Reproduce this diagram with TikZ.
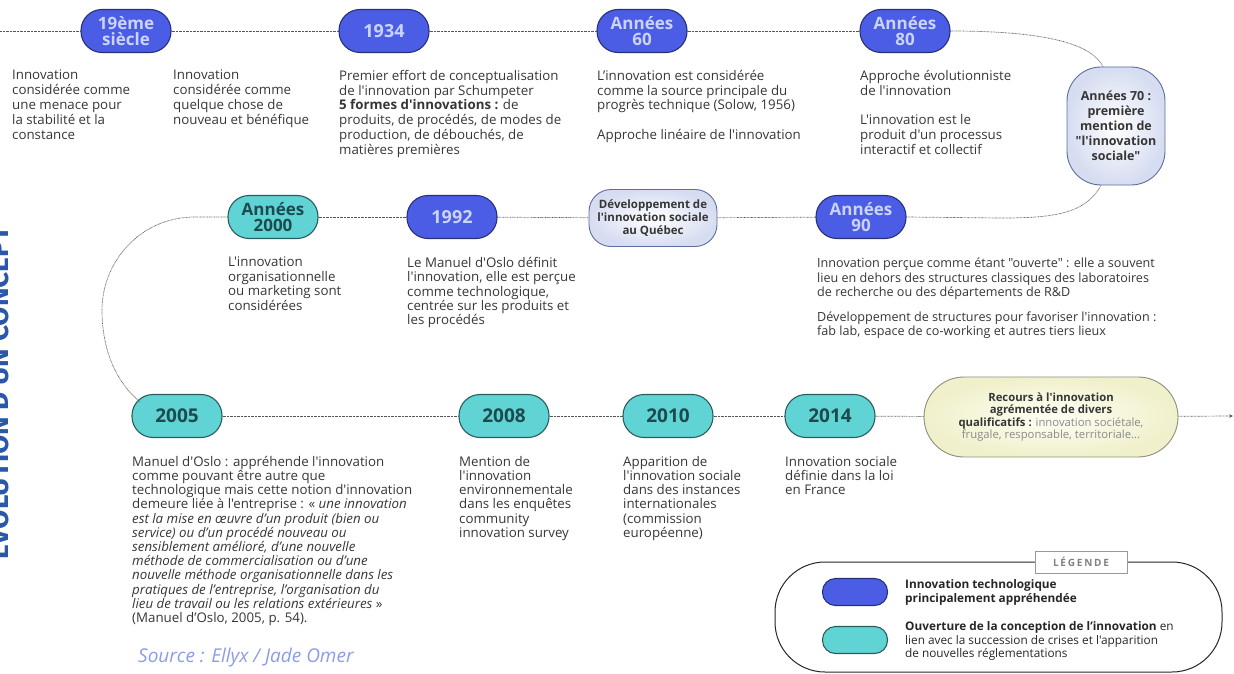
\documentclass[tikz,border=0pt]{standalone}
\usepackage{fontspec}
\setmainfont{Open Sans}
\newfontfamily\bodyfont{Open Sans}
\newfontfamily\titlefont{Fira Sans}
\usetikzlibrary{arrows.meta}
\definecolor{pblue}{HTML}{4B5DE4}
\definecolor{pblueedge}{HTML}{28307A}
\definecolor{pbluetext}{HTML}{CBD4FF}
\definecolor{pteal}{HTML}{60D3D5}
\definecolor{ptealedge}{HTML}{2B5C5C}
\definecolor{ptealtext}{HTML}{1D4A4D}
\definecolor{linegray}{HTML}{555555}
\definecolor{bodytext}{HTML}{363636}
\definecolor{titleblue}{HTML}{2A57A8}
\definecolor{srcblue}{HTML}{8C9CE6}
\definecolor{softedge}{HTML}{5E6C9E}
\definecolor{softrim}{HTML}{D6DDF1}
\definecolor{yelfill}{HTML}{FFFFF4}
\definecolor{yelrim}{HTML}{F0F0CC}
\definecolor{yeledge}{HTML}{8E8E7A}
\definecolor{greytext}{HTML}{8A8A8A}
\begin{document}
\bodyfont
\begin{tikzpicture}[x=1pt,y=-1pt,
  conn/.style={draw=linegray, line width=0.7pt, dash pattern=on 0.7pt off 0.7pt},
  pill/.style={rounded corners=21pt, minimum width=90pt, minimum height=43pt, line width=1.1pt, align=center, inner sep=0pt, font=\bfseries\fontsize{17}{16.5}\selectfont},
  bluepill/.style={pill, fill=pblue, draw=pblueedge, text=pbluetext},
  tealpill/.style={pill, fill=pteal, draw=ptealedge, text=ptealtext, font=\bfseries\fontsize{19}{19}\selectfont},
  softbox/.style={draw=softedge, line width=0.9pt, inner color=white, outer color=softrim, align=center, text=bodytext, inner sep=0pt, font=\bfseries\fontsize{11.5}{13}\selectfont},
  recours/.style={draw=yeledge, line width=0.9pt, inner color=yelfill, outer color=yelrim, rounded corners=40pt, minimum width=254pt, minimum height=80pt, align=center, inner sep=0pt, font=\fontsize{11.3}{12.3}\selectfont, text=bodytext},
  txt/.style={anchor=north west, inner sep=0pt, align=left, text=bodytext, font=\fontsize{13.3}{14.8}\selectfont},
]
\useasboundingbox (0,0) rectangle (1234,674);

% title
\node[rotate=90, anchor=base west, inner sep=0pt, text=titleblue, font=\titlefont\bfseries\fontsize{28}{28}\selectfont] (title) at (9,560) {ÉVOLUTION D'UN CONCEPT};

% row 1
\node[bluepill] (n19) at (126,31) {19ème\\siècle};
\node[bluepill, font=\bfseries\fontsize{18}{18}\selectfont] (n34) at (384,31) {1934};
\node[bluepill] (n60) at (642,31) {Années\\60};
\node[bluepill] (n80) at (905,31) {Années\\80};
\node[softbox, minimum width=98pt, minimum height=118pt, rounded corners=34pt, font=\bfseries\fontsize{12.5}{15}\selectfont] (n70) at (1116,126) {Années 70 :\\première\\mention de\\"l'innovation\\sociale"};

% row 2
\node[tealpill, font=\bfseries\fontsize{17}{16.5}\selectfont] (n2000) at (273,217) {Années\\2000};
\node[bluepill, font=\bfseries\fontsize{18}{18}\selectfont] (n92) at (452,217) {1992};
\node[softbox, minimum width=128pt, minimum height=57pt, rounded corners=22pt] (nqc) at (653,218) {Développement de\\l'innovation sociale\\au Québec};
\node[bluepill] (n90) at (861,217) {Années\\90};

% row 3
\node[tealpill] (n05) at (177,416) {2005};
\node[tealpill] (n08) at (504,416) {2008};
\node[tealpill] (n10) at (668,416) {2010};
\node[tealpill] (n14) at (830,416) {2014};
\node[recours] (nrec) at (1051,417) {\textbf{Recours à l'innovation}\\\textbf{agrémentée de divers}\\\textbf{qualificatifs :} {\color{greytext}innovation sociétale,}\\{\color{greytext}frugale, responsable, territoriale...}};

% connectors
\coordinate (lstart) at (0,31);
\coordinate (aend) at (1233,416);
\draw[conn] (lstart) -- (n19);
\draw[conn] (n19) -- (n34);
\draw[conn] (n34) -- (n60);
\draw[conn] (n60) -- (n80);
\draw[conn] (n80.east) .. controls (1050,31) and (1092,45) .. ([xshift=-13pt]n70.north);
\draw[conn] ([xshift=-15pt]n70.south) .. controls (1085,215) and (1050,218) .. (1000,218) -- (n90.east);
\draw[conn] (nqc) -- (n90);
\draw[conn] (n92) -- (nqc);
\draw[conn] (n2000) -- (n92);
\draw[conn] (n2000.west) -- (195,217) .. controls (140,217) and (102,262) .. (102,310) .. controls (102,350) and (116,382) .. ([xshift=-37pt,yshift=14pt]n05.center);
\draw[conn] (n05) -- (n08);
\draw[conn] (n08) -- (n10);
\draw[conn] (n10) -- (n14);
\draw[conn] (n14) -- (nrec);
\draw[conn, -{Stealth[length=4pt,width=3.5pt]}] (nrec) -- (aend);

% texts row 1
\node[txt] (t1) at (12,70) {Innovation\\considérée comme\\une menace pour\\la stabilité et la\\constance};
\node[txt] (t2) at (173,70) {Innovation\\considérée comme\\quelque chose de\\nouveau et bénéfique};
\node[txt] (t3) at (339,70) {Premier effort de conceptualisation\\de l'innovation par Schumpeter\\\textbf{5 formes d'innovations :} de\\produits, de procédés, de modes de\\production, de débouchés, de\\matières premières};
\node[txt] (t4) at (597,70) {L’innovation est considérée\\comme la source principale du\\progrès technique (Solow, 1956)\\[14.8pt]Approche linéaire de l'innovation};
\node[txt] (t5) at (860,70) {Approche évolutionniste\\de l'innovation\\[14.8pt]L'innovation est le\\produit d'un processus\\interactif et collectif};

% texts row 2
\node[txt, font=\fontsize{13.3}{14.4}\selectfont] (t6) at (228,257) {L'innovation\\organisationnelle\\ou marketing sont\\considérées};
\node[txt, font=\fontsize{13.3}{14.4}\selectfont] (t7) at (407,257) {Le Manuel d'Oslo définit\\l'innovation, elle est perçue\\comme technologique,\\centrée sur les produits et\\les procédés};
\node[txt, font=\fontsize{12.6}{14.5}\selectfont] (t8) at (817,258) {Innovation perçue comme étant "ouverte" : elle a souvent\\lieu en dehors des structures classiques des laboratoires\\de recherche ou des départements de R\&D\\[10pt]Développement de structures pour favoriser l'innovation :\\fab lab, espace de co-working et autres tiers lieux};

% texts row 3
\node[txt, font=\fontsize{13.3}{14.2}\selectfont] (t9) at (132,456) {Manuel d'Oslo : appréhende l'innovation\\comme pouvant être autre que\\technologique mais cette notion d'innovation\\demeure liée à l'entreprise : « \textit{une innovation}\\\textit{est la mise en œuvre d’un produit (bien ou}\\\textit{service) ou d’un procédé nouveau ou}\\\textit{sensiblement amélioré, d’une nouvelle}\\\textit{méthode de commercialisation ou d’une}\\\textit{nouvelle méthode organisationnelle dans les}\\\textit{pratiques de l’entreprise, l’organisation du}\\\textit{lieu de travail ou les relations extérieures} »\\(Manuel d’Oslo, 2005, p. 54).};
\node[txt, font=\fontsize{13.3}{14.2}\selectfont] (t10) at (459,456) {Mention de\\l'innovation\\environnementale\\dans les enquêtes\\community\\innovation survey};
\node[txt, font=\fontsize{13.3}{14.2}\selectfont] (t11) at (623,456) {Apparition de\\l'innovation sociale\\dans des instances\\internationales\\(commission\\européenne)};
\node[txt, font=\fontsize{13.3}{14.2}\selectfont] (t12) at (785,456) {Innovation sociale\\définie dans la loi\\en France};

\node[anchor=base west, inner sep=0pt, font=\itshape\fontsize{19}{19}\selectfont, text=srcblue] (src) at (138,662) {Source : Ellyx / Jade Omer};

% legend
\node[draw=black!85, line width=1pt, rounded corners=50pt, minimum width=447pt, minimum height=110pt] (leg) at (998.5,617) {};
\node[draw=black!40, fill=white, line width=0.8pt, minimum width=92pt, minimum height=22pt, inner sep=0pt, text=black!50, font=\bfseries\fontsize{10}{10}\selectfont\addfontfeatures{LetterSpace=18}] (legt) at (1081,562) {LÉGENDE};
\node[bluepill, minimum width=65pt, minimum height=27pt, rounded corners=13pt] (lp1) at (855,592) {};
\node[tealpill, minimum width=65pt, minimum height=27pt, rounded corners=13pt] (lp2) at (855,640) {};
\node[anchor=west, align=left, inner sep=0pt, text=black!85, font=\bfseries\fontsize{11.8}{14}\selectfont] (lt1) at (905,592) {Innovation technologique\\principalement appréhendée};
\node[anchor=west, align=left, inner sep=0pt, text=black!85, font=\fontsize{11.8}{13.5}\selectfont] (lt2) at (905,641) {\textbf{Ouverture de la conception de l’innovation} en\\lien avec la succession de crises et l'apparition\\de nouvelles réglementations};
\end{tikzpicture}
\end{document}
